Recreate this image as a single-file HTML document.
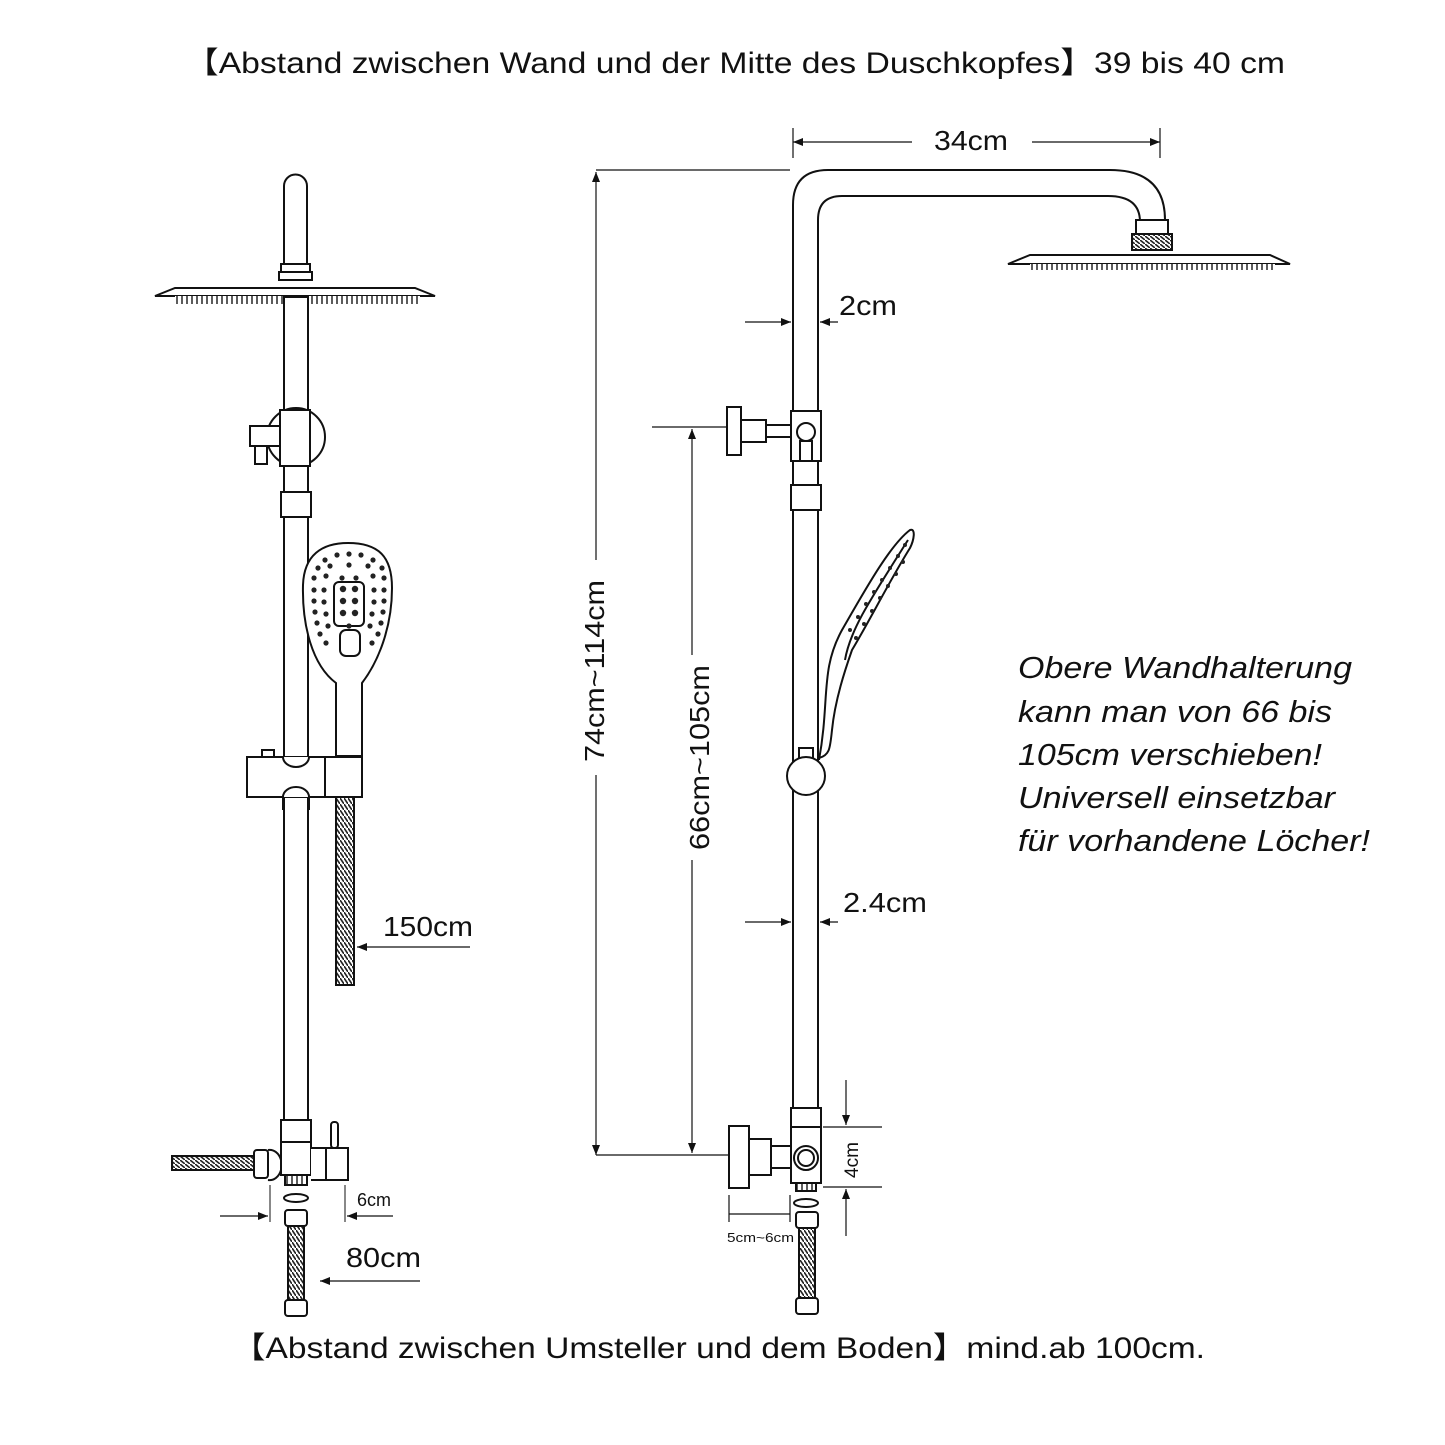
<!DOCTYPE html>
<html><head><meta charset="utf-8"><style>
html,body{margin:0;padding:0;background:#fff}
svg{display:block}
text{font-family:"Liberation Sans","Noto Sans CJK SC",sans-serif;fill:#111}
</style></head><body>
<svg width="1445" height="1445" viewBox="0 0 1445 1445" xmlns="http://www.w3.org/2000/svg">
<defs>
<marker id="ar" viewBox="0 0 10 10" refX="10" refY="5" markerWidth="14" markerHeight="10" orient="auto-start-reverse" markerUnits="userSpaceOnUse"><path d="M0,1 L10,5 L0,9z" fill="#111"/></marker>
<pattern id="coil" width="4" height="6" patternUnits="userSpaceOnUse"><rect width="4" height="6" fill="#fff"/><line x1="0" y1="0" x2="4" y2="6" stroke="#222" stroke-width="1.6"/></pattern>
<pattern id="coilh" width="5" height="4" patternUnits="userSpaceOnUse"><rect width="5" height="4" fill="#fff"/><line x1="0" y1="0" x2="5" y2="4" stroke="#222" stroke-width="1.6"/></pattern>
<pattern id="teeth" width="5" height="8" patternUnits="userSpaceOnUse"><rect width="5" height="8" fill="#fff"/><line x1="2" y1="0" x2="2" y2="8" stroke="#333" stroke-width="1.6"/></pattern>
</defs>
<text x="185" y="73" font-size="30" textLength="1100" lengthAdjust="spacingAndGlyphs">【Abstand zwischen Wand und der Mitte des Duschkopfes】39 bis 40 cm</text>
<text x="232" y="1358" font-size="30" textLength="973" lengthAdjust="spacingAndGlyphs">【Abstand zwischen Umsteller und dem Boden】mind.ab 100cm.</text>

<g fill="none" stroke="#111" stroke-width="2">
<!-- LEFT VIEW -->
<path d="M284,265 V186 a11.5,11.5 0 0 1 23,0 V265z" fill="#fff"/>
<rect x="281" y="264" width="29" height="8" fill="#fff"/>
<rect x="279" y="272" width="33" height="8" fill="#fff"/>
<path d="M155,296 L175,288 L415,288 L435,296z" fill="#fff"/>
<rect x="175" y="296" width="245" height="8" fill="url(#teeth)" stroke="none"/>
<rect x="284" y="297" width="24" height="828" fill="#fff"/>
<!-- bracket -->
<circle cx="296" cy="437" r="29" fill="#fff"/>
<rect x="250" y="426" width="32" height="20" fill="#fff"/>
<rect x="255" y="446" width="12" height="18" fill="#fff"/>
<rect x="280" y="410" width="30" height="56" fill="#fff"/>
<rect x="281" y="492" width="30" height="25" fill="#fff"/>
<!-- hand shower -->
<path d="M336,756 L336,683 C312,665 302,625 303,585 C304,555 322,543 348,543 C378,543 392,556 392,588 C392,628 378,662 362,683 L362,756z" fill="#fff"/>
<rect x="334" y="582" width="30" height="44" rx="5"/>
<rect x="340" y="630" width="20" height="26" rx="6"/>
<g fill="#222" stroke="none">
<circle cx="325" cy="560" r="2.6"/><circle cx="337" cy="555" r="2.6"/><circle cx="349" cy="554" r="2.6"/><circle cx="361" cy="555" r="2.6"/><circle cx="373" cy="560" r="2.6"/>
<circle cx="318" cy="568" r="2.6"/><circle cx="330" cy="566" r="2.6"/><circle cx="349" cy="565" r="2.6"/><circle cx="368" cy="566" r="2.6"/><circle cx="382" cy="568" r="2.6"/>
<circle cx="314" cy="578" r="2.6"/><circle cx="326" cy="576" r="2.6"/><circle cx="342" cy="578" r="2.6"/><circle cx="356" cy="578" r="2.6"/><circle cx="373" cy="576" r="2.6"/><circle cx="384" cy="578" r="2.6"/>
<circle cx="314" cy="590" r="2.6"/><circle cx="324" cy="590" r="2.6"/><circle cx="374" cy="590" r="2.6"/><circle cx="384" cy="590" r="2.6"/>
<circle cx="314" cy="601" r="2.6"/><circle cx="324" cy="602" r="2.6"/><circle cx="374" cy="602" r="2.6"/><circle cx="384" cy="601" r="2.6"/>
<circle cx="315" cy="612" r="2.6"/><circle cx="326" cy="614" r="2.6"/><circle cx="372" cy="614" r="2.6"/><circle cx="383" cy="612" r="2.6"/>
<circle cx="317" cy="623" r="2.6"/><circle cx="328" cy="626" r="2.6"/><circle cx="349" cy="626" r="2.6"/><circle cx="370" cy="626" r="2.6"/><circle cx="381" cy="623" r="2.6"/>
<circle cx="320" cy="634" r="2.6"/><circle cx="378" cy="634" r="2.6"/><circle cx="326" cy="643" r="2.6"/><circle cx="372" cy="643" r="2.6"/>
<circle cx="343" cy="589" r="3.2"/><circle cx="355" cy="589" r="3.2"/><circle cx="343" cy="601" r="3.2"/><circle cx="355" cy="601" r="3.2"/><circle cx="343" cy="613" r="3.2"/><circle cx="355" cy="613" r="3.2"/>
</g>
<!-- slider -->
<rect x="262" y="750" width="12" height="8" fill="#fff"/>
<rect x="247" y="757" width="115" height="40" fill="#fff"/>
<line x1="325" y1="757" x2="325" y2="797"/>
<path d="M283,797 a13,10 0 0 1 26,0" fill="#fff"/>
<path d="M283,757 a13,10 0 0 0 26,0" fill="#fff"/>
<line x1="283" y1="797" x2="283" y2="810"/><line x1="309" y1="797" x2="309" y2="810"/>
<rect x="336" y="797" width="18" height="188" fill="url(#coil)" stroke="#111"/>
<!-- diverter -->
<rect x="281" y="1120" width="30" height="22" fill="#fff"/>
<path d="M281,1142 H311 V1175 H281z" fill="#fff"/>
<path d="M311,1148 H348 V1180 H311" fill="#fff"/>
<line x1="326" y1="1148" x2="326" y2="1180"/>
<rect x="331" y="1122" width="7" height="26" rx="3" fill="#fff"/>
<path d="M268,1150 a12,15 0 0 1 13,10 v10 a12,15 0 0 1 -13,10" fill="#fff"/>
<rect x="254" y="1150" width="14" height="28" rx="3" fill="#fff"/>
<rect x="172" y="1156" width="82" height="14" fill="url(#coilh)" stroke="#111"/>
<rect x="285" y="1175" width="22" height="10" fill="url(#teeth)"/>
<ellipse cx="296" cy="1198" rx="12" ry="4"/>
<rect x="285" y="1210" width="22" height="16" rx="3" fill="#fff"/>
<rect x="288" y="1226" width="16" height="76" fill="url(#coil)" stroke="#111"/>
<rect x="285" y="1300" width="22" height="16" rx="3" fill="#fff"/>
<line x1="270" y1="1185" x2="270" y2="1222" stroke-width="1"/>
<line x1="345" y1="1185" x2="345" y2="1222" stroke-width="1"/>
</g>
<g stroke="#111" stroke-width="1.2">
<line x1="220" y1="1216" x2="268" y2="1216" marker-end="url(#ar)"/>
<line x1="393" y1="1216" x2="347" y2="1216" marker-end="url(#ar)"/>
<line x1="470" y1="947" x2="357" y2="947" marker-end="url(#ar)"/>
<line x1="420" y1="1281" x2="320" y2="1281" marker-end="url(#ar)"/>
</g>
<text x="383" y="936" font-size="28" textLength="90" lengthAdjust="spacingAndGlyphs">150cm</text>
<text x="357" y="1206" font-size="18">6cm</text>
<text x="346" y="1267" font-size="28" textLength="75" lengthAdjust="spacingAndGlyphs">80cm</text>

<!-- RIGHT VIEW -->
<g fill="none" stroke="#111" stroke-width="2">
<path d="M793,1110 V205 Q793,170 828,170 H1110 Q1165,170 1165,220"/>
<path d="M818,1110 V220 Q818,196 842,196 H1108 Q1140,196 1140,222"/>
<rect x="1136" y="220" width="32" height="14" fill="#fff"/>
<rect x="1132" y="234" width="40" height="16" fill="url(#coilh)"/>
<path d="M1008,264 L1030,255 L1270,255 L1290,264z" fill="#fff"/>
<rect x="1030" y="264" width="245" height="6" fill="url(#teeth)" stroke="none"/>
<rect x="727" y="407" width="14" height="48" fill="#fff"/>
<rect x="741" y="420" width="25" height="22" fill="#fff"/>
<rect x="766" y="425" width="25" height="12" fill="#fff"/>
<rect x="791" y="411" width="30" height="50" fill="#fff"/>
<circle cx="806" cy="432" r="9"/>
<rect x="800" y="441" width="12" height="20"/>
<rect x="791" y="485" width="30" height="25" fill="#fff"/>
<path d="M819,760 C830,700 820,670 842,630 C865,590 890,545 910,530 C916,528 914,540 910,548 C890,580 870,620 852,650 C845,670 835,700 832,730 C830,748 830,755 819,758" fill="#fff"/>
<path d="M845,660 C850,630 870,600 908,540"/>
<g fill="#222" stroke="none">
<circle cx="850" cy="630" r="2"/><circle cx="858" cy="617" r="2"/><circle cx="866" cy="604" r="2"/><circle cx="874" cy="592" r="2"/><circle cx="882" cy="580" r="2"/><circle cx="890" cy="568" r="2"/><circle cx="898" cy="556" r="2"/><circle cx="905" cy="545" r="2"/>
<circle cx="856" cy="638" r="2"/><circle cx="864" cy="624" r="2"/><circle cx="872" cy="611" r="2"/><circle cx="880" cy="598" r="2"/><circle cx="888" cy="586" r="2"/><circle cx="896" cy="574" r="2"/><circle cx="903" cy="562" r="2"/>
</g>
<rect x="799" y="748" width="14" height="10" fill="#fff"/>
<circle cx="806" cy="776" r="19" fill="#fff"/>
<rect x="791" y="1108" width="30" height="75" fill="#fff"/>
<line x1="791" y1="1127" x2="821" y2="1127"/>
<circle cx="806" cy="1158" r="12"/><circle cx="806" cy="1158" r="8"/>
<rect x="729" y="1126" width="20" height="62" fill="#fff"/>
<rect x="749" y="1139" width="22" height="36" fill="#fff"/>
<rect x="771" y="1146" width="20" height="22" fill="#fff"/>
<rect x="796" y="1183" width="20" height="8" fill="url(#teeth)"/>
<ellipse cx="806" cy="1203" rx="12" ry="4"/>
<rect x="796" y="1212" width="22" height="16" rx="3" fill="#fff"/>
<rect x="799" y="1228" width="16" height="72" fill="url(#coil)" stroke="#111"/>
<rect x="796" y="1298" width="22" height="16" rx="3" fill="#fff"/>
</g>
<g stroke="#111" stroke-width="1.2">
<line x1="793" y1="128" x2="793" y2="158"/><line x1="1160" y1="128" x2="1160" y2="158"/>
<line x1="793" y1="142" x2="912" y2="142" marker-start="url(#ar)"/>
<line x1="1032" y1="142" x2="1160" y2="142" marker-end="url(#ar)"/>
<line x1="596" y1="170" x2="790" y2="170"/>
<line x1="596" y1="172" x2="596" y2="560" marker-start="url(#ar)"/>
<line x1="596" y1="775" x2="596" y2="1155" marker-end="url(#ar)"/>
<line x1="596" y1="1155" x2="728" y2="1155"/>
<line x1="652" y1="427" x2="727" y2="427"/>
<line x1="692" y1="429" x2="692" y2="655" marker-start="url(#ar)"/>
<line x1="692" y1="860" x2="692" y2="1153" marker-end="url(#ar)"/>
<line x1="745" y1="322" x2="791" y2="322" marker-end="url(#ar)"/>
<line x1="838" y1="322" x2="820" y2="322" marker-end="url(#ar)"/>
<line x1="745" y1="922" x2="791" y2="922" marker-end="url(#ar)"/>
<line x1="838" y1="922" x2="820" y2="922" marker-end="url(#ar)"/>
<line x1="823" y1="1127" x2="882" y2="1127"/><line x1="823" y1="1187" x2="882" y2="1187"/>
<line x1="846" y1="1080" x2="846" y2="1125" marker-end="url(#ar)"/>
<line x1="846" y1="1236" x2="846" y2="1189" marker-end="url(#ar)"/>
<line x1="729" y1="1195" x2="729" y2="1222"/><line x1="790" y1="1195" x2="790" y2="1222"/>
<line x1="729" y1="1214" x2="790" y2="1214"/>
</g>
<text x="934" y="150" font-size="28" textLength="74" lengthAdjust="spacingAndGlyphs">34cm</text>
<text x="839" y="315" font-size="28" textLength="58" lengthAdjust="spacingAndGlyphs">2cm</text>
<text x="843" y="912" font-size="28" textLength="84" lengthAdjust="spacingAndGlyphs">2.4cm</text>
<text x="727" y="1242" font-size="13" textLength="67" lengthAdjust="spacingAndGlyphs">5cm~6cm</text>
<text transform="translate(604,580) rotate(-90)" font-size="28" x="-182" textLength="182" lengthAdjust="spacingAndGlyphs">74cm~114cm</text>
<text transform="translate(709,665) rotate(-90)" font-size="28" x="-185" textLength="185" lengthAdjust="spacingAndGlyphs">66cm~105cm</text>
<text transform="translate(858,1160) rotate(-90)" font-size="19" text-anchor="middle">4cm</text>
<g font-size="31" font-style="italic">
<text x="1018" y="678" textLength="334" lengthAdjust="spacingAndGlyphs">Obere Wandhalterung</text>
<text x="1018" y="722" textLength="314" lengthAdjust="spacingAndGlyphs">kann man von 66 bis</text>
<text x="1018" y="765" textLength="304" lengthAdjust="spacingAndGlyphs">105cm verschieben!</text>
<text x="1018" y="808" textLength="317" lengthAdjust="spacingAndGlyphs">Universell einsetzbar</text>
<text x="1018" y="851" textLength="352" lengthAdjust="spacingAndGlyphs">für vorhandene Löcher!</text>
</g>
</svg>
</body></html>
